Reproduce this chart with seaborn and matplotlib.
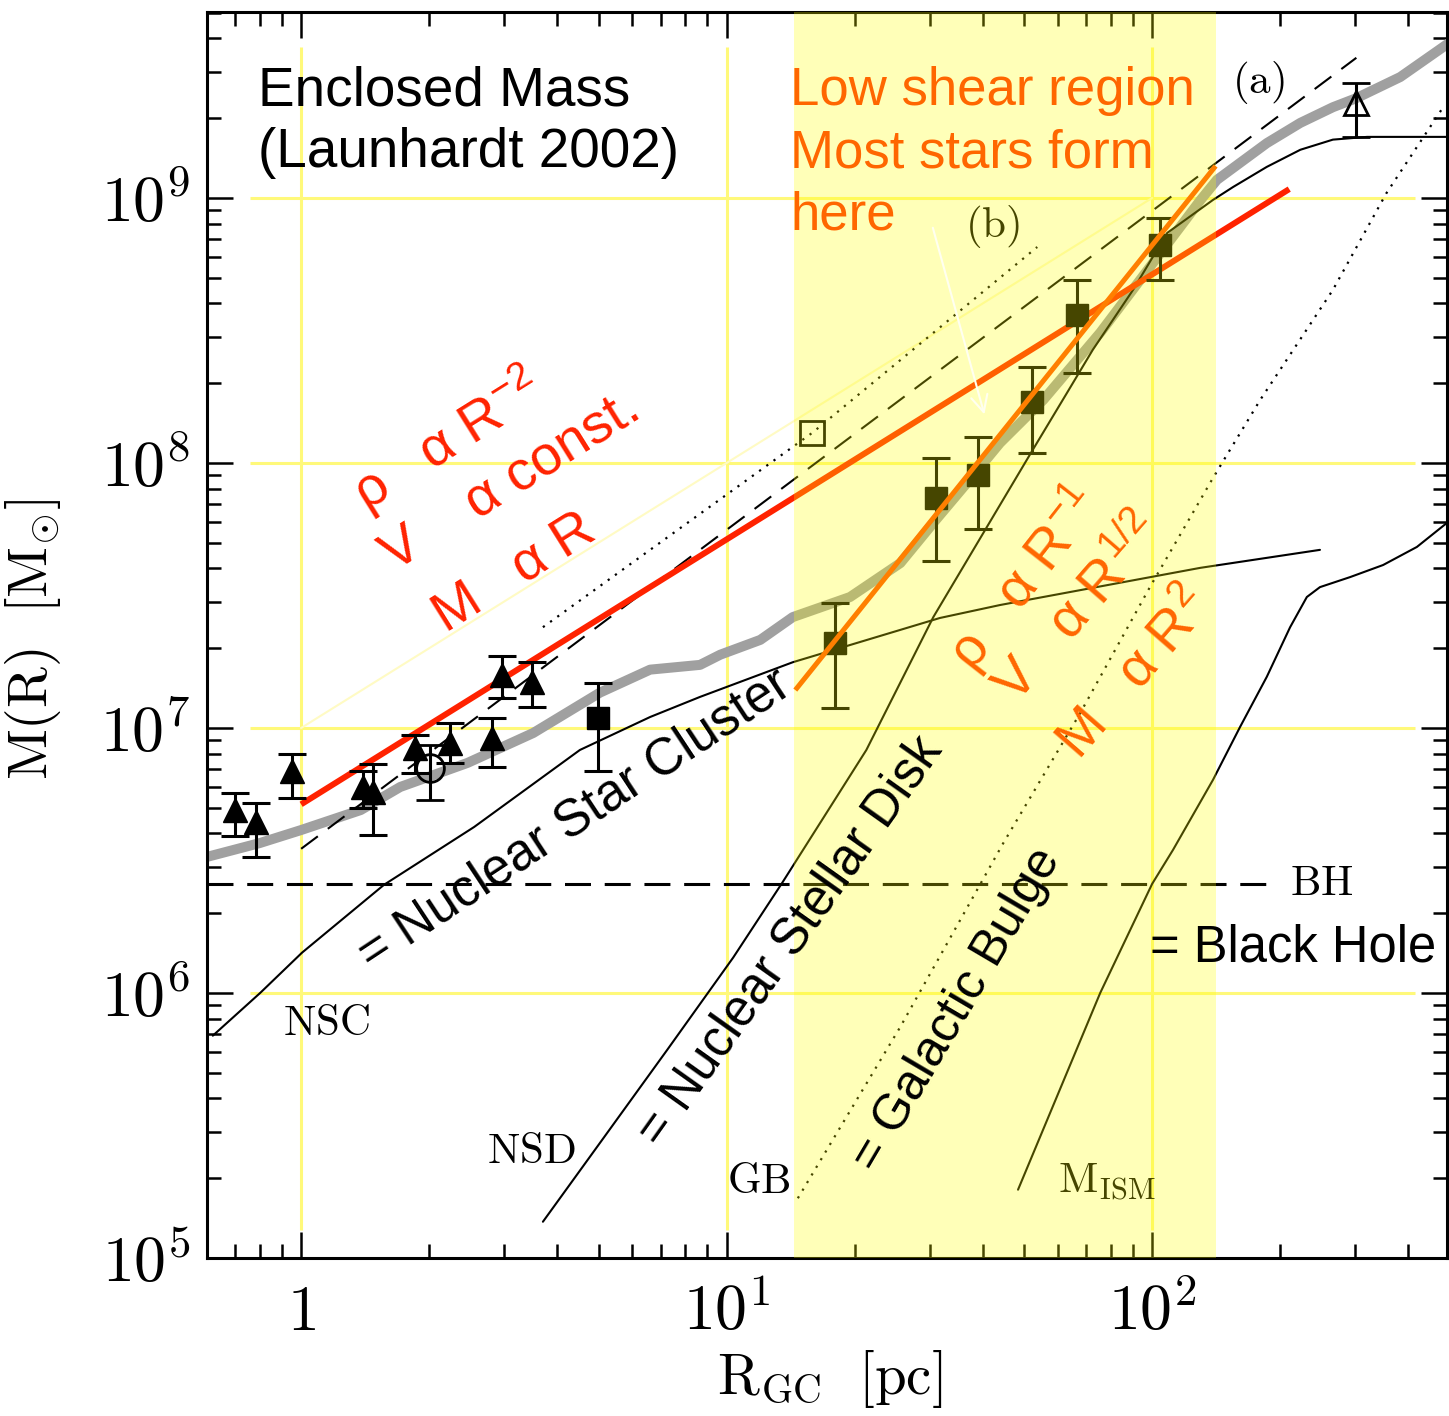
import numpy as np
import pandas as pd
import matplotlib
matplotlib.use('Agg')
import matplotlib.pyplot as plt
from matplotlib.ticker import NullFormatter
import seaborn as sns

# enclosed mass curves, R in pc, M in solar masses
total_r = [0.60, 0.80, 1.0, 1.38, 1.71, 2.46, 3.51, 5.04, 6.61, 8.66, 9.66, 12.0, 14.3, 19.5,
           25.6, 30.6, 36.7, 43.9, 55.5, 75.5, 98.9, 129.8, 142, 186, 223, 266, 302, 383, 499]
total_m = [3.26e6, 3.68e6, 4.12e6, 4.90e6, 5.99e6, 7.38e6, 9.57e6, 1.36e7, 1.66e7, 1.73e7, 1.89e7,
           2.15e7, 2.62e7, 3.12e7, 4.19e7, 5.94e7, 8.40e7, 1.19e8, 1.73e8, 3.10e8, 5.50e8, 9.8e8,
           1.17e9, 1.61e9, 1.92e9, 2.20e9, 2.38e9, 2.86e9, 3.85e9]

nsc_r = [0.62, 0.801, 1.005, 1.566, 2.55, 4.52, 6.61, 8.66, 14.3, 31.7, 43.9, 129.8, 248]
nsc_m = [6.9e5, 1.0e6, 1.42e6, 2.56e6, 4.23e6, 8.26e6, 1.10e7, 1.31e7, 1.77e7, 2.60e7, 2.91e7,
         4.02e7, 4.70e7]

nsd_r = [3.70, 5.04, 7.25, 10.36, 13.5, 21.3, 30.6, 52.4, 63.1, 72.5, 90.2, 108.5, 139, 155,
         186, 223, 266, 320, 499]
nsd_m = [1.37e5, 2.72e5, 6.10e5, 1.36e6, 2.60e6, 8.26e6, 2.62e7, 1.12e8, 1.84e8, 2.67e8, 4.50e8,
         7.38e8, 9.83e8, 1.10e9, 1.31e9, 1.52e9, 1.66e9, 1.70e9, 1.70e9]

gb_r = [14.7, 25.6, 44.7, 67.8, 98.9, 139, 179.5, 266, 355, 483]
gb_m = [1.68e5, 7.45e5, 3.68e6, 1.14e7, 3.41e7, 8.78e7, 1.73e8, 4.50e8, 1.04e9, 2.20e9]

ism_r = [48.4, 75.5, 100, 112, 139, 161, 186, 211, 231, 248, 292, 349, 419, 493]
ism_m = [1.81e5, 1.0e6, 2.58e6, 3.47e6, 6.37e6, 1.01e7, 1.56e7, 2.40e7, 3.12e7, 3.40e7, 3.71e7,
         4.12e7, 4.82e7, 5.94e7]

model_a_r = [1.0, 302]
model_a_m = [3.5e6, 3.38e9]
model_b_r = [3.70, 15.9, 53.7]
model_b_m = [2.40e7, 1.30e8, 6.53e8]

bh_r = [0.60, 194.5]
bh_m = [2.58e6, 2.58e6]

# power-law guides
flat_r = [1.0, 210]          # M ~ R
flat_m = [5.15e6, 1.08e9]
steep_r = [14.5, 141]        # M ~ R^2
steep_m = [1.39e7, 1.32e9]
guide_r = [1.0, 100]
guide_m = [1e7, 1e9]

# measurements
tri_r = [0.70, 0.784, 0.953, 1.40, 1.476, 1.853, 2.24, 2.81, 2.97, 3.49]
tri_m = [4.90e6, 4.42e6, 6.89e6, 5.99e6, 5.73e6, 8.41e6, 8.77e6, 9.17e6, 1.58e7, 1.49e7]
tri_hi = [5.69e6, 5.21e6, 7.98e6, 6.89e6, 7.31e6, 9.43e6, 1.04e7, 1.09e7, 1.87e7, 1.77e7]
tri_lo = [3.91e6, 3.26e6, 5.44e6, 4.99e6, 3.95e6, 6.76e6, 7.38e6, 7.13e6, 1.30e7, 1.20e7]

circ_r = [2.01]
circ_m = [7.06e6]
circ_hi = [8.63e6]
circ_lo = [5.35e6]

sq_r = [4.99, 18.0, 31.1, 39.0, 52.3, 66.6, 104.5]
sq_m = [1.09e7, 2.10e7, 7.38e7, 9.02e7, 1.70e8, 3.61e8, 6.65e8]
sq_hi = [1.48e7, 2.97e7, 1.04e8, 1.25e8, 2.30e8, 4.91e8, 8.41e8]
sq_lo = [6.89e6, 1.19e7, 4.27e7, 5.64e7, 1.09e8, 2.19e8, 4.91e8]

osq_r = [15.9]
osq_m = [1.30e8]

otri_r = [302]
otri_m = [2.28e9]
otri_hi = [2.72e9]
otri_lo = [1.70e9]

shear_zone = [14.4, 141.4]
grid_r = [1, 10, 100]
grid_m = [1e6, 1e7, 1e8, 1e9]

xtick_vals = [1, 10, 100]
xtick_labels = [r'$1$', r'$10^{1}$', r'$10^{2}$']
ytick_vals = [1e5, 1e6, 1e7, 1e8, 1e9]
ytick_labels = [r'$10^{5}$', r'$10^{6}$', r'$10^{7}$', r'$10^{8}$', r'$10^{9}$']

sns.set_style('ticks')
plt.rcParams['font.family'] = ['Liberation Sans', 'DejaVu Sans']
plt.rcParams['mathtext.fontset'] = 'cm'
plt.rcParams['axes.edgecolor'] = 'black'
plt.rcParams['xtick.color'] = 'black'
plt.rcParams['ytick.color'] = 'black'
plt.rcParams['text.color'] = 'black'
plt.rcParams['axes.labelcolor'] = 'black'

fig = plt.figure(figsize=(14.49, 14.16), dpi=100)
ax = fig.add_axes([0.1429, 0.1116, 0.8558, 0.8799])
ax.set_xscale('log')
ax.set_yscale('log')
ax.set_xlim(0.601, 493.5)
ax.set_ylim(1e5, 5.03e9)

# pale yellow grid
ax.hlines(grid_m, 0.759, 415, color='#fff97a', lw=2.2, zorder=1)
ax.vlines(grid_r, 1.28e5, 3.7e9, color='#fff97a', lw=2.2, zorder=1)
ax.plot(guide_r, guide_m, color='#fffbc4', lw=1.5, zorder=1)

def curve(r, m, **kw):
    df = pd.DataFrame({'R': r, 'M': m})
    sns.lineplot(data=df, x='R', y='M', ax=ax, sort=False, estimator=None, **kw)

curve(total_r, total_m, color='#a0a0a0', lw=7.2, zorder=1.5, solid_capstyle='butt',
      solid_joinstyle='round')
curve(nsc_r, nsc_m, color='black', lw=1.5, zorder=2)
curve(nsd_r, nsd_m, color='black', lw=1.5, zorder=2)
curve(ism_r, ism_m, color='black', lw=1.5, zorder=2)
curve(gb_r, gb_m, color='black', lw=1.6, linestyle=(0, (1, 3)), zorder=2)
curve(model_b_r, model_b_m, color='black', lw=1.6, linestyle=(0, (1, 3)), zorder=2)
curve(model_a_r, model_a_m, color='black', lw=1.5, linestyle=(0, (10, 6)), zorder=2)
curve(bh_r, bh_m, color='black', lw=2.2, linestyle=(0, (8.5, 4.5)), zorder=2)
curve(flat_r, flat_m, color='#ff2200', lw=4.3, zorder=3, solid_capstyle='butt')

err_kw = dict(ecolor='black', elinewidth=2.2, capsize=10, capthick=2.2, zorder=4)
ax.errorbar(tri_r, tri_m, yerr=[np.subtract(tri_m, tri_lo), np.subtract(tri_hi, tri_m)],
            fmt='^', ms=17, mfc='black', mec='black', **err_kw)
ax.errorbar(circ_r, circ_m, yerr=[np.subtract(circ_m, circ_lo), np.subtract(circ_hi, circ_m)],
            fmt='o', ms=20, mfc='none', mec='black', mew=2, **err_kw)
ax.errorbar(sq_r, sq_m, yerr=[np.subtract(sq_m, sq_lo), np.subtract(sq_hi, sq_m)],
            fmt='s', ms=16, mfc='black', mec='black', **err_kw)
ax.errorbar(otri_r, otri_m, yerr=[np.subtract(otri_m, otri_lo), np.subtract(otri_hi, otri_m)],
            fmt='^', ms=17, mfc='none', mec='black', mew=2, **err_kw)
ax.plot(osq_r, osq_m, 's', ms=17, mfc='none', mec='black', mew=2, zorder=4)

# labels that sit under the yellow overlay
serif = dict(fontsize=31, zorder=3)
ax.text(36.4, 7.78e8, r'$(\mathrm{b})$', va='center', ha='left', **serif)
ax.text(60.1, 1.76e5, r'$\mathrm{M_{ISM}}$', va='baseline', ha='left', **serif)

# low-shear zone: translucent yellow overlay on top of the data
ax.axvspan(shear_zone[0], shear_zone[1], color=(1, 1, 0), alpha=0.28, lw=0, zorder=5)

curve(steep_r, steep_m, color='#ff7f00', lw=3.6, zorder=6, solid_capstyle='butt')
ax.annotate('', xy=(40.5, 1.49e8), xytext=(30.4, 7.9e8),
            arrowprops=dict(arrowstyle='->', color='#fffff0', lw=1.5, mutation_scale=30), zorder=7)

ax.text(154, 2.72e9, r'$(\mathrm{a})$', va='center', ha='left', **serif)
ax.text(211, 2.58e6, r'$\mathrm{BH}$', va='center', ha='left', **serif)
ax.text(0.907, 6.94e5, r'$\mathrm{NSC}$', va='baseline', ha='left', **serif)
ax.text(2.74, 2.28e5, r'$\mathrm{NSD}$', va='baseline', ha='left', **serif)
ax.text(10.03, 1.76e5, r'$\mathrm{GB}$', va='baseline', ha='left', **serif)

ax.text(0.792, 2.24e9, 'Enclosed Mass', fontsize=39.5, va='baseline', zorder=8)
ax.text(0.792, 1.31e9, '(Launhardt 2002)', fontsize=39.5, va='baseline', zorder=8)

orange = '#ff6600'
for txt, mm in zip(['Low shear region', 'Most stars form', 'here'], [2.24e9, 1.30e9, 7.57e8]):
    ax.text(14.1, mm, txt, fontsize=38, color=orange, va='baseline', ha='left', zorder=8)

rot_kw = dict(ha='center', va='center', rotation_mode='anchor', zorder=8)
red = '#ff2200'
ax.text(2.20, 1.22e8, r'ρ   α R$^{\mathregular{-2}}$', fontsize=40, color=red, rotation=32, **rot_kw)
ax.text(3.12, 8.47e7, 'V    α const.', fontsize=40, color=red, rotation=32, **rot_kw)
ax.text(3.18, 3.85e7, 'M   α R', fontsize=40, color=red, rotation=32, **rot_kw)

ax.text(50.0, 3.68e7, r'ρ   α R$^{\mathregular{-1}}$', fontsize=40, color=orange, rotation=52, **rot_kw)
ax.text(67.7, 2.79e7, r'V   α R$^{\mathregular{1/2}}$', fontsize=40, color=orange, rotation=49, **rot_kw)
ax.text(91.2, 1.58e7, r'M   α R$^{\mathregular{2}}$', fontsize=40, color=orange, rotation=49, **rot_kw)

ax.text(4.40, 4.50e6, '= Nuclear Star Cluster', fontsize=37, rotation=33.4, **rot_kw)
ax.text(14.1, 1.56e6, '= Nuclear Stellar Disk', fontsize=36.5, rotation=54.6, **rot_kw)
ax.text(34.8, 8.63e5, '= Galactic Bulge', fontsize=36, rotation=59.5, **rot_kw)
ax.text(98.9, 1.31e6, '= Black Hole', fontsize=36.5, va='baseline', ha='left', zorder=8)

# axes, ticks, labels
ax.set_xticks(xtick_vals)
ax.set_xticklabels(xtick_labels)
ax.set_yticks(ytick_vals)
ax.set_yticklabels(ytick_labels)
ax.xaxis.set_minor_formatter(NullFormatter())
ax.yaxis.set_minor_formatter(NullFormatter())
ax.tick_params(which='major', direction='in', length=19, width=1.8, top=True, right=True,
               labelsize=46)
ax.tick_params(axis='x', which='major', pad=18)
ax.tick_params(axis='y', which='major', pad=12)
ax.tick_params(which='minor', direction='in', length=10, width=1.8, top=True, right=True)
for s in ax.spines.values():
    s.set_linewidth(2.2)
    s.set_color('black')

ax.set_xlabel(r'$\mathrm{R_{GC}\ \ [pc]}$', fontsize=41)
ax.set_ylabel(r'$\mathrm{M(R)\ \ [M_{\odot}]}$', fontsize=40)
ax.xaxis.set_label_coords(0.502, -0.072)
ax.yaxis.set_label_coords(-0.116, 0.496)

fig.savefig('out.png', dpi=100)
